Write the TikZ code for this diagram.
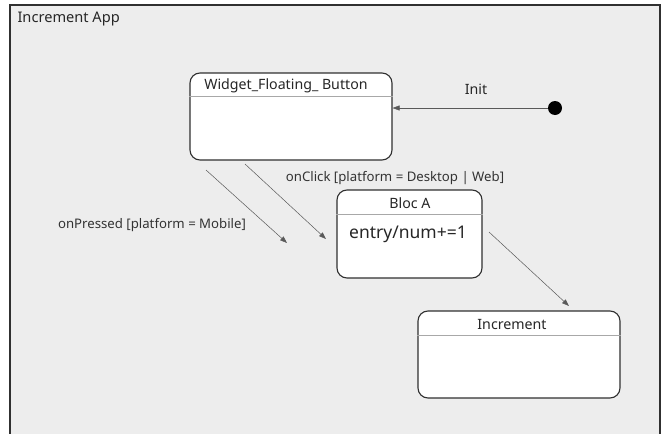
\documentclass[tikz,border=0pt]{standalone}
\usepackage{fontspec}
\setmainfont{Noto Sans}
\usetikzlibrary{calc}
\usetikzlibrary{arrows.meta}
\usetikzlibrary{positioning}
\definecolor{appbg}{HTML}{EDEDED}
\definecolor{edge}{HTML}{303030}
\definecolor{rule}{HTML}{A8A8A8}
\tikzset{
  state/.style={draw=edge, line width=1.1pt, fill=white, rounded corners=10pt, inner sep=0pt},
  statetitle/.style={font=\fontsize{14.2}{16}\selectfont, text=black!85},
  divider/.style={draw=rule, line width=1pt},
  trans/.style={draw=black!65, line width=0.5pt, -{Triangle[length=7pt,width=5pt]}},
  guard/.style={font=\fontsize{13.2}{15}\selectfont, text=black!80},
}

\begin{document}
\begin{tikzpicture}[x=1pt,y=-1pt]
\useasboundingbox (0,0) rectangle (665,434);

%%% FRAME %%%
\fill[appbg] (10,5) rectangle (660,434);
\draw[edge, line width=1.2pt] (10,434) -- (10,5) -- (660,5) -- (660,434);
\node[statetitle, anchor=west, font=\fontsize{14.6}{16}\selectfont] (app) at (14,19) {Increment App};

%%% STATES %%%
% widget
\node[state, minimum width=202pt, minimum height=87pt] (wfb) at (291,116.5) {};
\draw[divider] ([yshift=-24pt]wfb.north west) -- ([yshift=-24pt]wfb.north east);
\node[statetitle] (wfbname) at (286,86) {Widget\_Floating\_ Button};
% bloc
\node[state, minimum width=145pt, minimum height=88pt] (bloc) at (409.5,234) {};
\draw[divider] ([yshift=-25pt]bloc.north west) -- ([yshift=-25pt]bloc.north east);
\node[statetitle] (blocname) at (410,203) {Bloc A};
\node[font=\fontsize{17.5}{20}\selectfont, text=black!85] (entry) at (408,234) {entry/num+=1};
% increment
\node[state, minimum width=202pt, minimum height=87pt] (inc) at (519,354.5) {};
\draw[divider] ([yshift=-25pt]inc.north west) -- ([yshift=-25pt]inc.north east);
\node[statetitle] (incname) at (512,324) {Increment};

%%% INITIAL STATE %%%
\node[circle, fill=black, minimum size=14pt, inner sep=0pt] (start) at (555,108) {};
\draw[trans] (start) -- (start -| wfb.east);
\node[statetitle] (init) at (476,89) {Init};

%%% TRANSITIONS %%%
\coordinate (pressA) at (206,170);
\coordinate (pressB) at (287,243);
\coordinate (clickA) at (245,164);
\coordinate (clickB) at (326,239);
\coordinate (incA) at (489,232);
\coordinate (incB) at (569,306);
\draw[trans] (pressA) -- (pressB);
\draw[trans] (clickA) -- (clickB);
\draw[trans] (incA) -- (incB);
\node[guard] (pressed) at (152,225) {onPressed [platform = Mobile]};
\node[guard] (click) at (395,178) {onClick [platform = Desktop | Web]};
\end{tikzpicture}
\end{document}
